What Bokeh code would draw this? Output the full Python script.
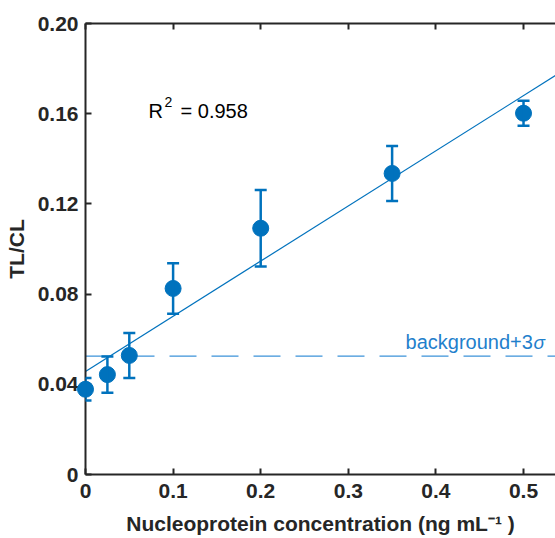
from bokeh.plotting import figure
from bokeh.models import Range1d, FixedTicker, LinearAxis, Whisker, TeeHead, ColumnDataSource, Label
from bokeh.embed import file_html
from bokeh.resources import INLINE

# ---- data ----
conc = [0.0, 0.025, 0.05, 0.1, 0.2, 0.35, 0.5]
ratio = [0.0378, 0.0443, 0.0528, 0.0825, 0.1092, 0.1335, 0.1602]
err = [0.0050, 0.0080, 0.0100, 0.0112, 0.0170, 0.0122, 0.0055]
fit_x = [0.0, 0.6]
fit_y = [0.0457, 0.1925]
background_level = 0.0525
r2_value = "= 0.958"
bg_text = "background+3"
x_ticks = [0, 0.1, 0.2, 0.3, 0.4, 0.5]
x_tick_labels = ["0", "0.1", "0.2", "0.3", "0.4", "0.5"]
y_ticks = [0, 0.04, 0.08, 0.12, 0.16, 0.2]
y_tick_labels = ["0", "0.04", "0.08", "0.12", "0.16", "0.20"]
x_label = "Nucleoprotein concentration (ng mL\u207b\u00b9 )"
y_label = "TL/CL"

BLUE = "#0072BD"
DARK = "#262626"
FONT = "Liberation Sans"

src = ColumnDataSource(dict(
    x=conc, y=ratio,
    upper=[r + e for r, e in zip(ratio, err)],
    lower=[r - e for r, e in zip(ratio, err)],
))

p = figure(width=555, height=538, output_backend="svg", toolbar_location=None,
           x_range=Range1d(0, 0.5365), y_range=Range1d(0, 0.2),
           min_border_left=85, min_border_top=23, min_border_right=0, min_border_bottom=64)
p.outline_line_color = None
p.grid.visible = False
p.background_fill_color = "white"
p.border_fill_color = "white"

def style_axis(ax):
    ax.axis_line_color = DARK
    ax.axis_line_width = 2
    ax.major_tick_line_color = DARK
    ax.major_tick_line_width = 2
    ax.major_tick_in = 6
    ax.major_tick_out = 0
    ax.minor_tick_line_color = None
    ax.major_label_text_font = FONT
    ax.major_label_text_font_style = "bold"
    ax.major_label_text_color = DARK
    ax.major_label_text_font_size = "21px"
    ax.axis_label_text_font = FONT
    ax.axis_label_text_font_style = "bold"
    ax.axis_label_text_color = DARK
    ax.axis_label_text_font_size = "21px"

xa = p.xaxis[0]
style_axis(xa)
xa.ticker = FixedTicker(ticks=x_ticks)
xa.major_label_overrides = dict(zip(x_ticks, x_tick_labels))
xa.major_label_standoff = 9
xa.axis_label = x_label
xa.axis_label_standoff = 11

ya = p.yaxis[0]
style_axis(ya)
ya.ticker = FixedTicker(ticks=y_ticks)
ya.major_label_overrides = dict(zip(y_ticks, y_tick_labels))
ya.major_label_standoff = 7
ya.axis_label = y_label
ya.axis_label_standoff = 7

top = LinearAxis(ticker=FixedTicker(ticks=x_ticks))
style_axis(top)
top.major_label_text_font_size = "1px"
top.major_label_text_color = None
top.major_label_standoff = 0
p.add_layout(top, "above")

# background + 3 sigma line
p.line(x=[0, 0.6], y=[background_level, background_level], line_color="#3d93d9",
       line_width=1.2, line_dash="27 15")
p.add_layout(Label(x=0.3653, y=background_level, y_offset=14, text=bg_text,
                   text_font=FONT, text_font_size="20px", text_color="#1f80cc",
                   text_baseline="alphabetic"))
p.add_layout(Label(x=0.3653, y=background_level, x_offset=128, y_offset=14, text="\u03c3",
                   text_font=FONT, text_font_size="19px", text_font_style="italic",
                   text_color="#1f80cc", text_baseline="alphabetic"))

# fit line
p.line(x=fit_x, y=fit_y, line_color=BLUE, line_width=1.2)

# error bars
p.add_layout(Whisker(source=src, base="x", upper="upper", lower="lower",
                     line_color=BLUE, line_width=2.5, level="overlay",
                     upper_head=TeeHead(size=12, line_color=BLUE, line_width=2.5),
                     lower_head=TeeHead(size=12, line_color=BLUE, line_width=2.5)))

p.scatter(x="x", y="y", source=src, size=16, fill_color=BLUE, line_color=BLUE,
          level="overlay")

# R^2 annotation
p.add_layout(Label(x=0.072, y=0.1614, text="R", text_font=FONT,
                   text_font_size="20px", text_color="black", text_baseline="alphabetic"))
p.add_layout(Label(x=0.072, y=0.1614, x_offset=16, y_offset=9, text="2", text_font=FONT,
                   text_font_size="14px", text_color="black", text_baseline="alphabetic"))
p.add_layout(Label(x=0.072, y=0.1614, x_offset=32, text=r2_value, text_font=FONT,
                   text_font_size="20px", text_color="black", text_baseline="alphabetic"))

open("out.html", "w").write(file_html(p, INLINE))
